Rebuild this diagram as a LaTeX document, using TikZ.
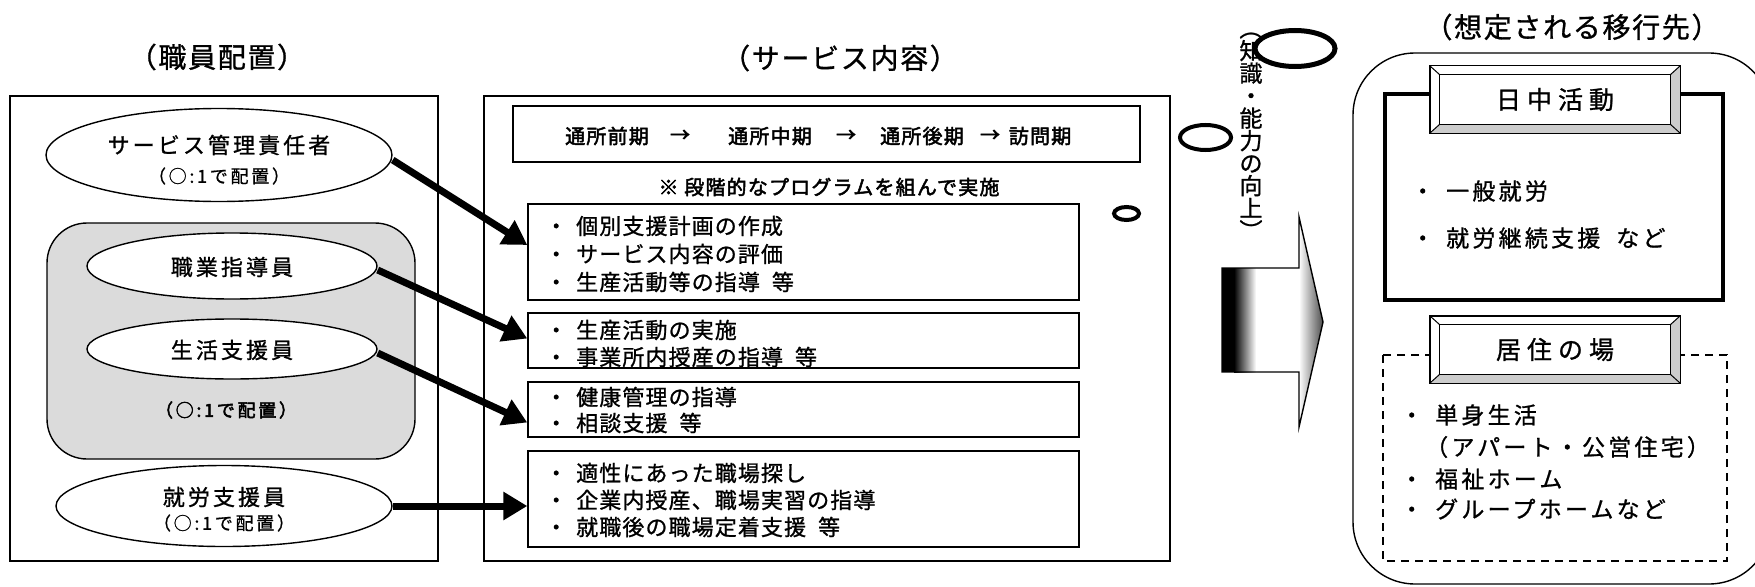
\documentclass[tikz,border=0pt]{standalone}
\usepackage{fontspec}
\newfontfamily\jp[FakeBold=1]{Noto Sans CJK JP}
\newfontfamily\jpa[LetterSpace=5,FakeBold=1]{Noto Sans CJK JP}
\newfontfamily\jpb[LetterSpace=14,FakeBold=1]{Noto Sans CJK JP}
\newfontfamily\jpc[LetterSpace=24,FakeBold=1]{Noto Sans CJK JP}
\newfontfamily\jps[LetterSpace=15,FakeBold=0.8]{Noto Sans CJK JP}
\newfontfamily\jpt[LetterSpace=6,FakeBold=1]{Noto Sans CJK JP}
\newfontfamily\jph[LetterSpace=6,FakeBold=2.4]{Noto Sans CJK JP}
\newfontfamily\jpk[LetterSpace=15,FakeBold=2.6]{Noto Sans CJK JP}
\usetikzlibrary{shapes.geometric,arrows.meta,calc}
\newcommand{\fsz}[1]{\fontsize{#1pt}{#1pt}\selectfont}
\newcommand{\bevelbox}[4]{%
  \node[hdr] (#1) at (#2,#3) {};
  \coordinate (#1iNW) at ($(#1.north west)+(10,9)$);
  \coordinate (#1iNE) at ($(#1.north east)+(-10,9)$);
  \coordinate (#1iSE) at ($(#1.south east)+(-10,-9)$);
  \coordinate (#1iSW) at ($(#1.south west)+(10,-9)$);
  \fill[gray!40] (#1.north east) -- (#1iNE) -- (#1iSE) -- (#1.south east) -- cycle;
  \fill[gray!40] (#1.south west) -- (#1iSW) -- (#1iSE) -- (#1.south east) -- cycle;
  \draw[line width=1.4pt] (#1.north west) rectangle (#1.south east);
  \draw[line width=1.2pt] (#1iNW) rectangle (#1iSE);
  \draw[line width=1pt] (#1.north west) -- (#1iNW) (#1.north east) -- (#1iNE)
     (#1.south east) -- (#1iSE) (#1.south west) -- (#1iSW);
  \node[tx, font={\jpc\fsz{25}}] (#1t) at (#2,#3) {#4};
}
\tikzset{
  frame/.style={draw, line width=1.4pt},
  box/.style={draw, line width=1.4pt, inner sep=0pt, rectangle},
  ell/.style={draw, ellipse, line width=1.4pt, fill=white, inner sep=0pt},
  tx/.style={inner sep=0pt},
  ttl/.style={inner sep=0pt, font={\jpt\fsz{28}}},
  sub/.style={inner sep=0pt, font={\jps\fsz{18}}},
  flow/.style={inner sep=0pt, font={\jph\fsz{20}}},
  li/.style={inner sep=0pt, anchor=west, font={\jpa\fsz{22}}},
  ri/.style={inner sep=0pt, anchor=west, font={\jpb\fsz{23}}},
  hdr/.style={rectangle, fill=white, inner sep=0pt, minimum width=250pt, minimum height=67pt},
  bigarrow/.style={line width=7pt, -{Triangle[length=24pt,width=27pt]}},
  odd/.style={draw, ellipse, fill=white, inner sep=0pt},
}
\begin{document}
\begin{tikzpicture}[x=1pt,y=-1pt]
\useasboundingbox (0,0) rectangle (1755,586);
\fill[white] (0,0) rectangle (1755,586);

% ---------- titles
\node[ttl] (tl1) at (217,57) {（職員配置）};
\node[ttl] (tl2) at (840,58) {（サービス内容）};
\node[ttl] (tl3) at (1572,27) {（想定される移行先）};

% ---------- left column
\draw[frame] (10,96) rectangle (438,561);
\draw[frame, fill=black!14, rounded corners=40pt] (47,223) rectangle (415,459);
\node[ell, minimum width=346pt, minimum height=93pt] (eA) at (219,155) {};
\node[tx, font={\jpb\fsz{22}}] (eAt) at (219,145) {サービス管理責任者};
\node[sub] (eAs) at (219,176) {（○:1で配置）};
\node[ell, minimum width=290pt, minimum height=66pt] (eB) at (232,266) {};
\node[tx, font={\jpb\fsz{22}}] (eBt) at (232,267) {職業指導員};
\node[ell, minimum width=290pt, minimum height=60pt] (eC) at (232,349) {};
\node[tx, font={\jpb\fsz{22}}] (eCt) at (232,350) {生活支援員};
\node[tx, font={\jpk\fsz{18}}] (gS) at (226,410) {（○:1で配置）};
\node[ell, minimum width=336pt, minimum height=81pt] (eD) at (224,506) {};
\node[tx, font={\jpb\fsz{22}}] (eDt) at (224,497) {就労支援員};
\node[sub] (eDs) at (224,523) {（○:1で配置）};

% ---------- middle column
\draw[frame] (484,96) rectangle (1170,561);
\node[box, minimum width=627pt, minimum height=56pt] (top) at (826.5,134) {};
\node[flow] (f1) at (607,136) {通所前期};
\node[flow] (a1) at (680,136) {→};
\node[flow] (f2) at (770,136) {通所中期};
\node[flow] (a2) at (846,136) {→};
\node[flow] (f3) at (922,136) {通所後期};
\node[flow] (a3) at (990,136) {→};
\node[flow] (f4) at (1040,136) {訪問期};
\node[flow] (st) at (829,187) {※\ 段階的なプログラムを組んで実施};

\node[box, minimum width=551pt, minimum height=96pt] (b1) at (803.5,252) {};
\node[box, minimum width=551pt, minimum height=55pt] (b2) at (803.5,340.5) {};
\node[box, minimum width=551pt, minimum height=55pt] (b3) at (803.5,409.5) {};
\node[box, minimum width=551pt, minimum height=96pt] (b4) at (803.5,499) {};

\node[li] (b1l1) at (545,226) {・\kern9pt 個別支援計画の作成};
\node[li] (b1l2) at (545,254) {・\kern9pt サービス内容の評価};
\node[li] (b1l3) at (545,282) {・\kern9pt 生産活動等の指導\kern12pt 等};
\node[li] (b2l1) at (545,330) {・\kern9pt 生産活動の実施};
\node[li] (b2l2) at (545,357) {・\kern9pt 事業所内授産の指導\kern12pt 等};
\node[li] (b3l1) at (545,397) {・\kern9pt 健康管理の指導};
\node[li] (b3l2) at (545,423) {・\kern9pt 相談支援\kern12pt 等};
\node[li] (b4l1) at (545,473) {・\kern9pt 適性にあった職場探し};
\node[li] (b4l2) at (545,500) {・\kern9pt 企業内授産、職場実習の指導};
\node[li] (b4l3) at (545,527) {・\kern9pt 就職後の職場定着支援\kern12pt 等};

% ---------- connectors
\draw[bigarrow] ($(eA.east)+(0,5)$) -- ($(b1.west)+(0,-7)$);
\draw[bigarrow] ($(eB.east)+(0,4)$) -- ($(b2.west)+(0,-2)$);
\draw[bigarrow] ($(eC.east)+(0,4)$) -- ($(b3.west)+(0,13)$);
\draw[bigarrow] (eD.east) -- (eD.east -| b4.west);

% ---------- block arrow
\fill[white] (1222,268) -- (1299,268) -- (1299,217) -- (1323,322) -- (1299,427) -- (1299,372) -- (1222,372) -- cycle;
\fill[black] (1222,268) rectangle (1234,372);
\shade[left color=black, right color=white] (1234,268) rectangle (1256,372);
\shade[left color=white, right color=black!70] (1299,217) -- (1323,322) -- (1299,427) -- cycle;
\draw[line width=1.4pt, line join=miter] (1222,268) -- (1299,268) -- (1299,217) -- (1323,322) -- (1299,427) -- (1299,372) -- (1222,372) -- cycle;

% ---------- vertical text and stray ellipses
\node[tx, align=center, font={\jp\fontsize{23pt}{22.5pt}\selectfont}] (vt) at (1251,136) {︵\\知\\識\\・\\能\\力\\の\\向\\上\\︶};
\node[odd, line width=5pt, minimum width=80pt, minimum height=36pt] (o1) at (1295,48.5) {};
\node[odd, line width=4pt, minimum width=51pt, minimum height=25pt] (o2) at (1205.5,137.5) {};
\node[odd, line width=4pt, minimum width=25pt, minimum height=13pt] (o3) at (1126.5,213.5) {};

% ---------- right column
\begin{scope}
\clip (0,0) rectangle (1755,586);
\draw[frame, rounded corners=62pt] (1353,53) rectangle (1771,584);
\end{scope}
\draw[line width=4.5pt] (1385,94) rectangle (1723,300);
\draw[line width=1.4pt, dash pattern=on 8pt off 6pt] (1383,355) rectangle (1727,561);
\bevelbox{h1}{1555}{99.5}{日中活動}
\bevelbox{h2}{1555}{349.5}{居住の場}
\node[ri] (r1) at (1411,191) {・\kern12pt 一般就労};
\node[ri] (r2) at (1411,238) {・\kern12pt 就労継続支援\kern16pt など};
\node[ri] (r3) at (1400,415) {・\kern12pt 単身生活};
\node[ri] (r4) at (1425,447) {（アパート・公営住宅）};
\node[ri] (r5) at (1400,479) {・\kern12pt 福祉ホーム};
\node[ri] (r6) at (1400,509) {・\kern12pt グループホームなど};
\end{tikzpicture}
\end{document}
